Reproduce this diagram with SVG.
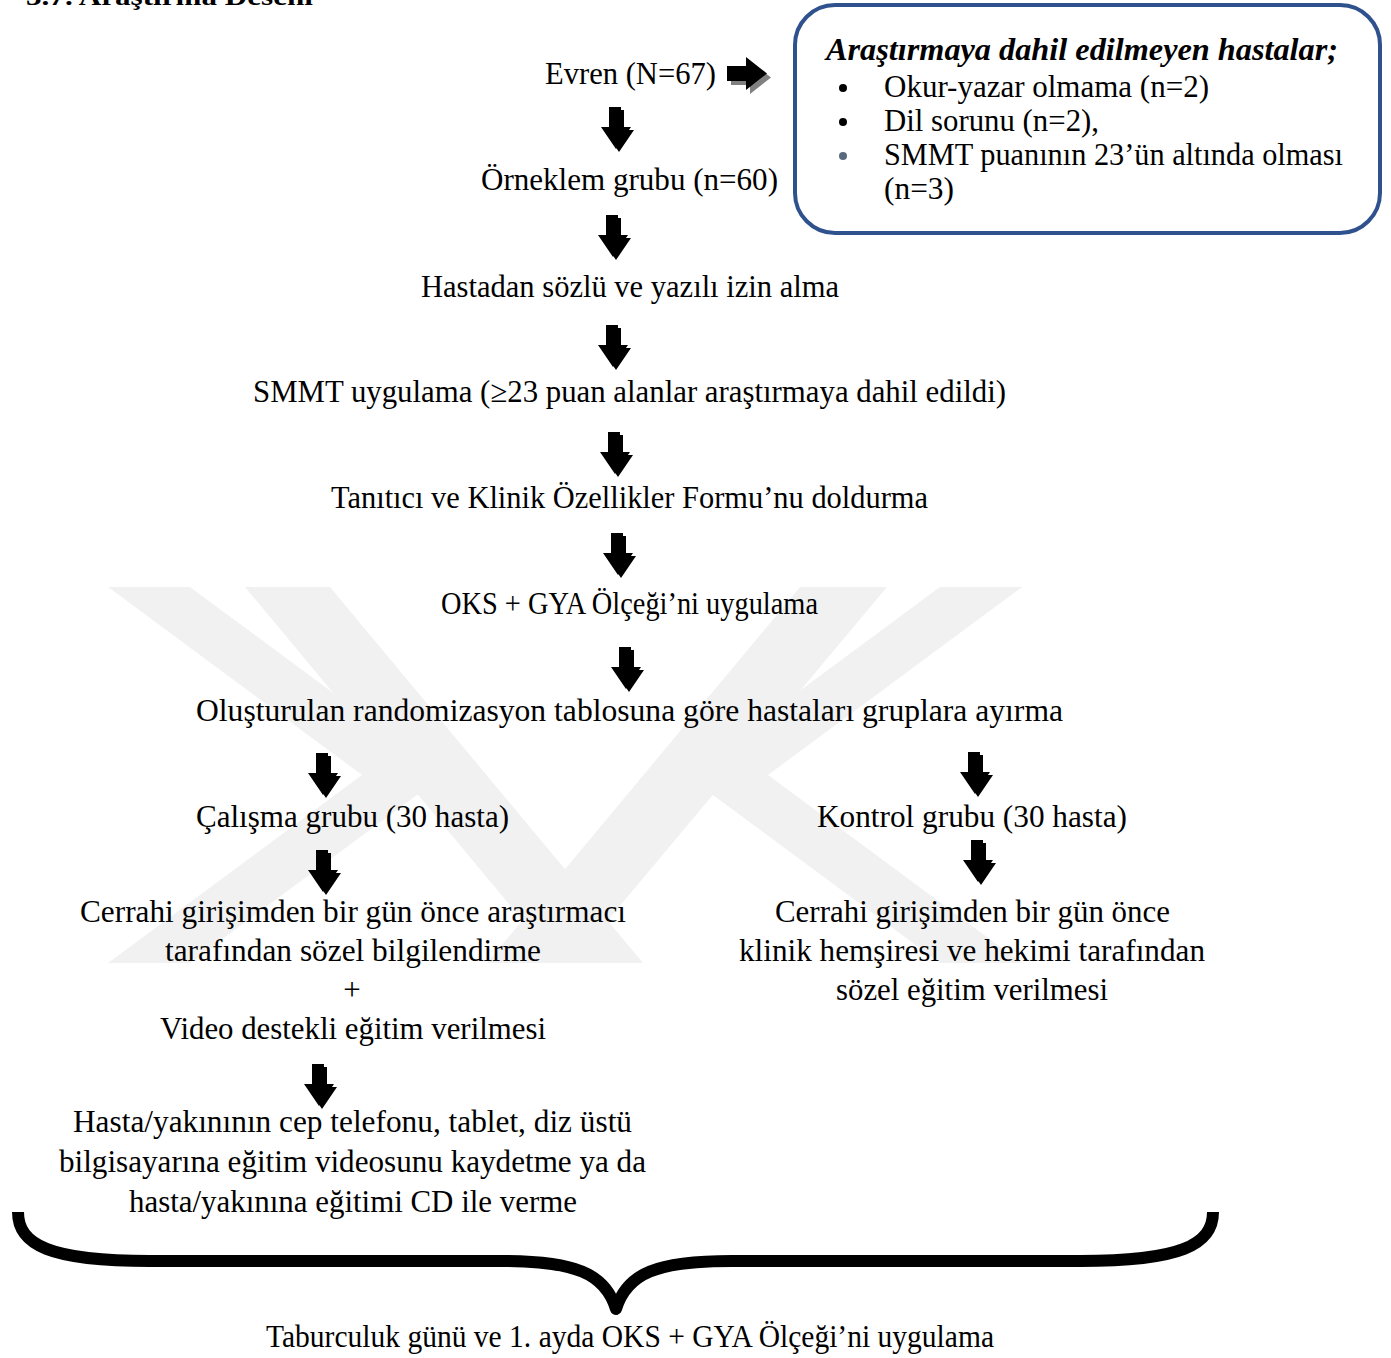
<svg xmlns="http://www.w3.org/2000/svg" width="1391" height="1358" viewBox="0 0 1391 1358">
<style>
.t{font-family:"Liberation Serif","Times New Roman",serif;font-size:31px;fill:#000;text-anchor:middle}
.bx{font-family:"Liberation Serif","Times New Roman",serif;font-size:31px;fill:#000}
.wm{fill:#f1f1f1}
.arr{fill:#000}
</style>
<defs>
<g id="da" class="arr">
<polygon points="-9,0 3,0 3,20 13,20 -2,42 -17,20 -9,20"/>
<polygon transform="translate(3,3)" points="-9,0 3,0 3,20 13,20 -2,42 -17,20 -9,20"/>
</g>
</defs>
<rect width="1391" height="1358" fill="#fff"/>
<g id="watermark">
<polygon class="wm" points="108,587 190,587 444,775 190,963 108,963 362,775"/>
<polygon class="wm" points="940,587 1022,587 768,775 1022,963 940,963 686,775"/>
<polygon class="wm" points="245,587 330,587 643,963 558,963"/>
<polygon class="wm" points="800,587 887,587 572,963 487,963"/>
</g>
<g id="heading">
<text x="26" y="5" font-family="Liberation Serif, serif" font-weight="bold" font-size="26" textLength="287" lengthAdjust="spacingAndGlyphs">3.7. Araştırma Deseni</text>
</g>
<g id="connectors">
<g id="arrow-right">
<polygon fill="#808080" transform="translate(4,4)" points="727,66 746,66 746,57 767,73.5 746,90 746,81 727,81"/>
<polygon fill="#000" points="727,66 746,66 746,57 767,73.5 746,90 746,81 727,81"/>
</g>
<use href="#da" x="618" y="107"/>
<use href="#da" x="615" y="215"/>
<use href="#da" x="615" y="325"/>
<use href="#da" x="617" y="432"/>
<use href="#da" x="620" y="533"/>
<use href="#da" x="628" y="647"/>
<use href="#da" x="325" y="753"/>
<use href="#da" x="325" y="850"/>
<use href="#da" x="977" y="752"/>
<use href="#da" x="980" y="840"/>
<use href="#da" x="321" y="1064"/>
<path id="brace" d="M 18 1212 C 18 1245, 50 1261, 150 1261 L 500 1261 C 575 1261, 605 1273, 616 1309 C 627 1273, 657 1261, 732 1261 L 1080 1261 C 1180 1261, 1213 1245, 1213 1212" fill="none" stroke="#000" stroke-width="12" stroke-linejoin="round"/>
</g>
<g id="n-evren"><text class="t" x="630.5" y="84" textLength="171" lengthAdjust="spacingAndGlyphs">Evren (N=67)</text></g>
<g id="n-orneklem"><text class="t" x="629.5" y="190" textLength="297" lengthAdjust="spacingAndGlyphs">Örneklem grubu (n=60)</text></g>
<g id="n-izin"><text class="t" x="630" y="297" textLength="418" lengthAdjust="spacingAndGlyphs">Hastadan sözlü ve yazılı izin alma</text></g>
<g id="n-smmt"><text class="t" x="629.5" y="402" textLength="753" lengthAdjust="spacingAndGlyphs">SMMT uygulama (≥23 puan alanlar araştırmaya dahil edildi)</text></g>
<g id="n-form"><text class="t" x="629.5" y="508" textLength="597" lengthAdjust="spacingAndGlyphs">Tanıtıcı ve Klinik Özellikler Formu’nu doldurma</text></g>
<g id="n-oks"><text class="t" x="629.5" y="614" textLength="377" lengthAdjust="spacingAndGlyphs">OKS + GYA Ölçeği’ni uygulama</text></g>
<g id="n-random"><text class="t" x="629.5" y="721" textLength="867" lengthAdjust="spacingAndGlyphs">Oluşturulan randomizasyon tablosuna göre hastaları gruplara ayırma</text></g>
<g id="n-calisma"><text class="t" x="352.5" y="827" textLength="313" lengthAdjust="spacingAndGlyphs">Çalışma grubu (30 hasta)</text></g>
<g id="n-kontrol"><text class="t" x="972" y="827" textLength="310" lengthAdjust="spacingAndGlyphs">Kontrol grubu (30 hasta)</text></g>
<g id="n-egitim-calisma">
<text class="t" x="353" y="922" textLength="546" lengthAdjust="spacingAndGlyphs">Cerrahi girişimden bir gün önce araştırmacı</text>
<text class="t" x="353" y="961" textLength="376" lengthAdjust="spacingAndGlyphs">tarafından sözel bilgilendirme</text>
<text class="t" x="352" y="1000">+</text>
<text class="t" x="353" y="1039" textLength="386" lengthAdjust="spacingAndGlyphs">Video destekli eğitim verilmesi</text>
</g>
<g id="n-egitim-kontrol">
<text class="t" x="972.5" y="922" textLength="395" lengthAdjust="spacingAndGlyphs">Cerrahi girişimden bir gün önce</text>
<text class="t" x="972" y="961" textLength="466" lengthAdjust="spacingAndGlyphs">klinik hemşiresi ve hekimi tarafından</text>
<text class="t" x="972" y="1000" textLength="272" lengthAdjust="spacingAndGlyphs">sözel eğitim verilmesi</text>
</g>
<g id="n-video">
<text class="t" x="352.5" y="1132" textLength="559" lengthAdjust="spacingAndGlyphs">Hasta/yakınının cep telefonu, tablet, diz üstü</text>
<text class="t" x="352.5" y="1172" textLength="587" lengthAdjust="spacingAndGlyphs">bilgisayarına eğitim videosunu kaydetme ya da</text>
<text class="t" x="353" y="1212" textLength="448" lengthAdjust="spacingAndGlyphs">hasta/yakınına eğitimi CD ile verme</text>
</g>
<g id="n-taburculuk"><text class="t" x="630" y="1347" textLength="728" lengthAdjust="spacingAndGlyphs">Taburculuk günü ve 1. ayda OKS + GYA Ölçeği’ni uygulama</text></g>
<g id="n-dislanan">
<rect x="795" y="5" width="585" height="228" rx="40" ry="40" fill="#fff" stroke="#2f528f" stroke-width="4"/>
<text class="bx" x="826" y="60" font-weight="bold" font-style="italic" textLength="512" lengthAdjust="spacingAndGlyphs">Araştırmaya dahil edilmeyen hastalar;</text>
<circle cx="843" cy="88" r="4" fill="#000"/>
<text class="bx" x="884" y="97" textLength="325" lengthAdjust="spacingAndGlyphs">Okur-yazar olmama (n=2)</text>
<circle cx="843" cy="122" r="4" fill="#000"/>
<text class="bx" x="884" y="131" textLength="215" lengthAdjust="spacingAndGlyphs">Dil sorunu (n=2),</text>
<circle cx="843" cy="156" r="4" fill="#5a6a7e"/>
<text class="bx" x="884" y="165" textLength="459" lengthAdjust="spacingAndGlyphs">SMMT puanının 23’ün altında olması</text>
<text class="bx" x="884" y="199" textLength="70" lengthAdjust="spacingAndGlyphs">(n=3)</text>
</g>
</svg>
